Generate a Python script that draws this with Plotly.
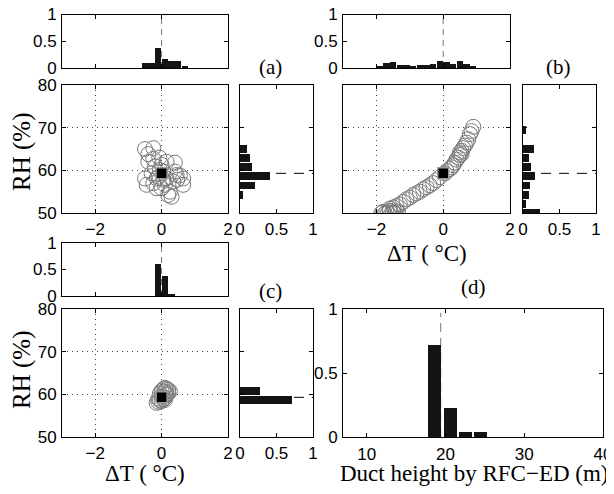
import plotly.graph_objects as go

W, H = 606, 478   # figure size that fits the window together with the page margin
OFF = 8           # page body margin offset

# ---- data ----
TRUE_DT = 0.0
TRUE_RH = 59.3
DUCT_TRUE = 19.4

# panel (a) scatter
a_dt = [-0.50, -0.25, -0.40, -0.25, -0.07, 0.15, -0.20, 0.00, 0.40, 0.55, 0.47, 0.65, -0.50, -0.45,
        -0.25, -0.15, 0.10, 0.25, 0.20, -0.10, 0.15, 0.35, -0.30, 0.05, -0.05, -0.15, 0.05, 0.65,
        -0.40, 0.00, 0.30, 0.45, 0.40]
a_rh = [65.0, 65.2, 63.8, 62.7, 63.0, 62.0, 60.9, 61.3, 59.7, 58.8, 57.8, 56.6, 58.1, 56.6,
        57.0, 55.8, 56.6, 55.0, 54.2, 58.5, 58.1, 57.4, 59.3, 59.7, 60.1, 58.1, 57.8, 58.1,
        62.0, 55.8, 53.8, 58.9, 61.8]
# panel (b) scatter
b_dt = [-1.85, -1.80, -1.75, -1.70, -1.65, -1.60, -1.55, -1.50, -1.45, -1.40, -1.35, -1.60, -1.50,
        -1.40, -1.30, -1.20, -1.10, -1.00, -0.90, -0.80, -0.70, -0.60, -0.50, -0.40, -0.30, -0.20,
        -0.10, 0.05, 0.10, 0.20, 0.25, 0.30, 0.35, 0.40, 0.45, 0.50, 0.50, 0.55, 0.55, 0.60, 0.65,
        0.70, 0.75, 0.80, 0.85, 0.90]
b_rh = [50.0, 50.3, 49.8, 50.2, 50.0, 50.5, 49.9, 50.2, 50.0, 50.4, 50.1, 51.0, 51.3,
        51.6, 52.0, 52.6, 53.2, 53.6, 54.2, 54.6, 55.0, 55.6, 56.0, 56.5, 57.0, 57.7,
        58.4, 59.3, 59.8, 60.3, 60.7, 61.2, 61.8, 62.5, 63.0, 63.6, 64.2, 64.6, 63.8, 65.2, 65.8,
        66.5, 67.3, 68.5, 69.2, 70.2]
# panel (c) scatter
c_dt = [-0.15, -0.10, -0.05, 0.00, 0.05, 0.10, 0.15, 0.20, 0.20, 0.15, 0.10, 0.05, 0.00, -0.05,
        0.10, 0.25, 0.15, -0.10, 0.00, 0.10]
c_rh = [58.0, 58.3, 58.6, 58.4, 58.8, 59.2, 59.8, 60.3, 61.0, 61.3, 61.5, 61.2, 60.8, 60.2,
        60.5, 60.7, 60.0, 59.0, 59.5, 58.7]

# top histograms (ΔT)
a_top_x = [-0.5, -0.3, -0.1, 0.1, 0.3, 0.5, 0.7]
a_top_p = [0.11, 0.11, 0.38, 0.17, 0.14, 0.14, 0.05]
b_top_x = [-1.9, -1.7, -1.5, -1.3, -1.1, -0.9, -0.7, -0.5, -0.3, -0.1, 0.1, 0.3, 0.5, 0.7, 0.9]
b_top_p = [0.05, 0.10, 0.13, 0.07, 0.06, 0.04, 0.06, 0.06, 0.09, 0.14, 0.12, 0.08, 0.14, 0.09, 0.05]
c_top_x = [-0.1, 0.1, 0.3]
c_top_p = [0.60, 0.38, 0.04]

# right histograms (RH)
a_rgt_y = [65.05, 62.9, 60.75, 58.6, 56.45, 54.3]
a_rgt_p = [0.10, 0.14, 0.16, 0.41, 0.20, 0.04]
b_rgt_y = [69.35, 65.05, 62.9, 60.75, 58.6, 56.45, 54.3, 52.15, 50.0]
b_rgt_p = [0.04, 0.15, 0.08, 0.11, 0.17, 0.10, 0.08, 0.04, 0.23]
c_rgt_y = [60.75, 58.6]
c_rgt_p = [0.27, 0.71]

# panel (d)
d_x = [18.65, 20.6, 22.55, 24.45]
d_p = [0.72, 0.23, 0.04, 0.04]

# ---- layout helpers ----
def xd(l, r):
    return [(l - OFF) / W, (r - OFF) / W]

def yd(t, b):
    return [1 - (b - OFF) / H, 1 - (t - OFF) / H]

TICKFONT = dict(family="Liberation Sans, Arial, sans-serif", size=17, color="black")
SERIF = "Liberation Serif, Times New Roman, serif"

def ax(domain, anchor, rng, tickvals, labels=True, grid=False, **kw):
    d = dict(domain=domain, anchor=anchor, range=rng, tickvals=tickvals,
             showticklabels=labels, showline=True, linecolor="black", linewidth=1,
             mirror="allticks", ticks="inside", ticklen=4, tickcolor="black",
             tickfont=TICKFONT, zeroline=False, showgrid=grid, fixedrange=True,
             automargin=False, ticklabeloverflow="allow")
    if grid:
        d.update(gridcolor="#444", griddash="1px,4px", gridwidth=1)
    d.update(kw)
    return d

fig = go.Figure()

CIRC = dict(symbol="circle-open", size=15, color="#7a7a7a", line=dict(width=1))
SQ = dict(symbol="square", size=11, color="black", line=dict(color="#9a9a9a", width=1.5))
BARC = "#141414"

panels = [
    (1, 2, 3, a_dt, a_rh, a_top_x, a_top_p, a_rgt_y, a_rgt_p),
    (4, 5, 6, b_dt, b_rh, b_top_x, b_top_p, b_rgt_y, b_rgt_p),
    (7, 8, 9, c_dt, c_rh, c_top_x, c_top_p, c_rgt_y, c_rgt_p),
]

def ref(i):
    return ("x" if i == 1 else f"x{i}"), ("y" if i == 1 else f"y{i}")

shapes = []
for s, t, r, dx, dy, tx, tp, ry, rp in panels:
    xs, ys = ref(s)
    xt, yt = ref(t)
    xr, yr = ref(r)
    fig.add_trace(go.Scatter(x=dx, y=dy, mode="markers", marker=CIRC, xaxis=xs, yaxis=ys,
                             showlegend=False, hoverinfo="skip"))
    fig.add_trace(go.Scatter(x=[TRUE_DT], y=[TRUE_RH], mode="markers", marker=SQ, xaxis=xs,
                             yaxis=ys, showlegend=False, hoverinfo="skip"))
    fig.add_trace(go.Bar(x=tx, y=tp, width=0.19, marker=dict(color=BARC, line=dict(width=0)),
                         xaxis=xt, yaxis=yt, showlegend=False, hoverinfo="skip"))
    fig.add_trace(go.Bar(y=ry, x=rp, orientation="h", width=1.85,
                         marker=dict(color=BARC, line=dict(width=0)),
                         xaxis=xr, yaxis=yr, showlegend=False, hoverinfo="skip"))
    shapes.append(dict(type="line", xref=xt, yref=yt, x0=TRUE_DT, x1=TRUE_DT, y0=0, y1=1,
                       layer="below", line=dict(color="#777", width=1, dash="6px,5px")))
    shapes.append(dict(type="line", xref=xr, yref=yr, x0=0, x1=1, y0=TRUE_RH, y1=TRUE_RH,
                       layer="below", line=dict(color="black", width=1, dash="10px,8px")))

fig.add_trace(go.Bar(x=d_x, y=d_p, width=1.65, marker=dict(color=BARC, line=dict(width=0)),
                     xaxis="x10", yaxis="y10", showlegend=False, hoverinfo="skip"))
shapes.append(dict(type="line", xref="x10", yref="y10", x0=DUCT_TRUE, x1=DUCT_TRUE, y0=0,
                   y1=0.97, layer="below", line=dict(color="#777", width=1, dash="9px,6px")))

XR = [-3, 2]
YR = [50, 80]
layout = dict(
    width=W, height=H, margin=dict(l=0, r=0, t=0, b=0, autoexpand=False),
    paper_bgcolor="white", plot_bgcolor="white", bargap=0, showlegend=False,
    shapes=shapes,
)
cols = {"a": (62, 228, 240, 313), "b": (343, 510, 523, 596), "c": (62, 228, 240, 313)}
rows = {"a": (14.5, 68, 85, 213), "b": (14.5, 68, 85, 213), "c": (243, 296, 309, 437)}
for key, (s, t, r) in zip("abc", [(1, 2, 3), (4, 5, 6), (7, 8, 9)]):
    sl, sr, rl, rr = cols[key]
    tt, tb, st, sb = rows[key]
    xs, ys = ref(s)
    xt, yt = ref(t)
    xr, yr = ref(r)
    xn = lambda i: "xaxis" if i == 1 else f"xaxis{i}"
    yn = lambda i: "yaxis" if i == 1 else f"yaxis{i}"
    layout[xn(s)] = ax(xd(sl, sr), ys, XR, [-2, 0, 2], True, True, ticklabelstandoff=1)
    layout[yn(s)] = ax(yd(st, sb), xs, YR, [50, 60, 70, 80], key != "b", True,
                       ticklabelstandoff=1)
    layout[xn(t)] = ax(xd(sl, sr), yt, XR, [-2, 0, 2], False)
    layout[yn(t)] = ax(yd(tt, tb), xt, [0, 1], [0, 0.5, 1], True, ticktext=["0", "0.5", "1"],
                       ticklabelstandoff=1)
    layout[xn(r)] = ax(xd(rl, rr), yr, [0, 1], [0, 0.5, 1], True, ticktext=["0", "0.5", "1"],
                       ticklabelstandoff=1)
    layout[yn(r)] = ax(yd(st, sb), xr, YR, [50, 60, 70, 80], False)

layout["xaxis10"] = ax(xd(343, 603), "y10", [7, 40], [10, 20, 30, 40], True,
                       ticklabelstandoff=2)
layout["yaxis10"] = ax(yd(309, 437), "x10", [0, 1], [0, 0.5, 1], True,
                       ticktext=["0", "0.5", "1"], ticklabelstandoff=1)
fig.update_layout(**layout)

def ann(text, x, y, size=21, angle=0):
    fig.add_annotation(text=text, x=(x - OFF) / W, y=1 - (y - OFF) / H, xref="paper",
                       yref="paper", showarrow=False, textangle=angle, xanchor="center",
                       yanchor="middle", font=dict(family=SERIF, size=size, color="black"))

ann("(a)", 270, 67)
ann("(b)", 558, 67)
ann("(c)", 270, 291)
ann("(d)", 473, 287)
ann("RH (%)", 22, 152, size=25, angle=-90)
ann("RH (%)", 22, 370, size=25, angle=-90)
ann("ΔT ( °C)", 427, 253, size=23)
ann("ΔT ( °C)", 145, 473, size=23)
ann("Duct height by RFC−ED (m)", 474, 473, size=23)

fig.write_html("out.html")
